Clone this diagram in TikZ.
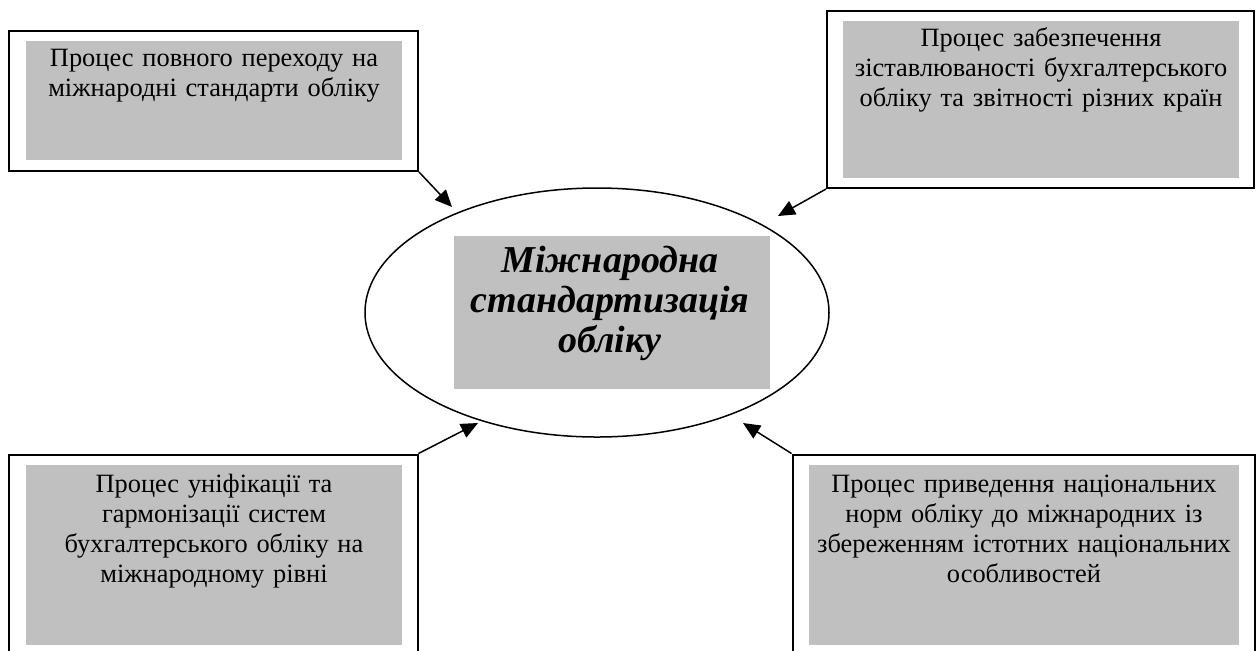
\documentclass[tikz,border=0pt]{standalone}
\usepackage{fontspec}
\setmainfont{Liberation Serif}
\usetikzlibrary{arrows.meta,shapes.geometric}
\definecolor{boxgray}{HTML}{C0C0C0}
\tikzset{
  outerframe/.style={draw=black, line width=1pt, rectangle, inner sep=0pt, fill=white},
  graybox/.style={fill=boxgray, rectangle, inner sep=0pt},
  boxtext/.style={anchor=base, align=center, inner sep=0pt, text width=250pt,
    font=\fontsize{13.2}{15}\selectfont},
  centertext/.style={anchor=base, align=center, inner sep=0pt, text width=200pt,
    font=\fontsize{19}{20}\selectfont\bfseries\itshape},
  oval/.style={ellipse, draw=black, line width=0.75pt, inner sep=0pt},
  arr/.style={draw=black, line width=0.75pt, -{Triangle[length=8.5pt,width=7.5pt]}}
}
\begin{document}
\begin{tikzpicture}[x=0.5pt,y=-0.5pt]
\clip (0,0) rectangle (1260,650);

% outer frames
\node[outerframe, minimum width=204.35pt, minimum height=70.15pt] (f1) at (213.65,100.85) {};
\node[outerframe, minimum width=213.5pt, minimum height=88.5pt] (f2) at (1040.5,99.5) {};
\node[outerframe, minimum width=204.25pt, minimum height=107.75pt] (f3) at (213.25,562.25) {};
\node[outerframe, minimum width=231pt, minimum height=107.75pt] (f4) at (1023.5,562.25) {};

% gray panels
\node[graybox, minimum width=188pt, minimum height=59.65pt] (g1) at (214,100.35) {};
\node[graybox, minimum width=198pt, minimum height=78.5pt] (g2) at (1041,99.5) {};
\node[graybox, minimum width=188pt, minimum height=90pt] (g3) at (214,555) {};
\node[graybox, minimum width=215pt, minimum height=90pt] (g4) at (1024,555) {};

% texts
\node[boxtext] (t1) at (214,66.3)
  {Процес повного переходу на\\міжнародні стандарти обліку};
\node[boxtext] (t2) at (1041,46)
  {Процес забезпечення\\зіставлюваності бухгалтерського\\обліку та звітності різних країн};
\node[boxtext] (t3) at (214,492.5)
  {Процес уніфікації та\\гармонізації систем\\бухгалтерського обліку на\\міжнародному рівні};
\node[boxtext] (t4) at (1024,492.5)
  {Процес приведення національних\\норм обліку до міжнародних із\\збереженням істотних національних\\особливостей};

% central oval
\node[oval, minimum width=232pt, minimum height=124.5pt] (c) at (597,312.5) {};
\node[graybox, minimum width=158pt, minimum height=76.5pt] (gc) at (612,312.5) {};
\node[centertext] (tc) at (610,272)
  {Міжнародна\\стандартизація\\обліку};

% arrow tips
\coordinate (p1) at (452,207);
\coordinate (p2) at (778,216);
\coordinate (p3) at (478,423);
\coordinate (p4) at (743,423);

\draw[arr] (f1.south east) -- (p1);
\draw[arr] (f2.south west) -- (p2);
\draw[arr] (f3.north east) -- (p3);
\draw[arr] (f4.north west) -- (p4);
\end{tikzpicture}
\end{document}
